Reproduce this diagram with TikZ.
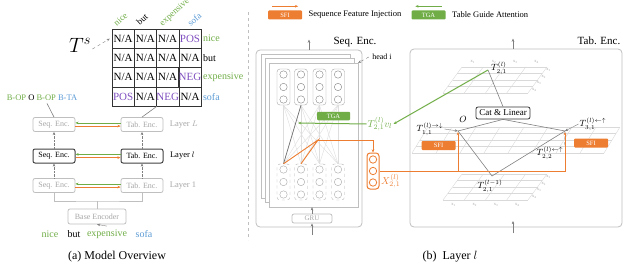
\documentclass[tikz,border=0pt]{standalone}
\usepackage{fontspec}
\setmainfont{Liberation Serif}
\usetikzlibrary{arrows.meta,calc,positioning}

\definecolor{tgagreen}{HTML}{70AD47}
\definecolor{sfiorange}{HTML}{ED7D31}
\definecolor{wordblue}{HTML}{5B9BD5}
\definecolor{tagpurple}{HTML}{8050C0}
\definecolor{linegray}{HTML}{BFBFBF}
\definecolor{textgray}{HTML}{A6A6A6}

\newcommand{\fs}[1]{\fontsize{#1}{#1}\selectfont}
\newcommand{\na}{N/A}
\newcommand{\postag}{\textcolor{tagpurple}{POS}}
\newcommand{\negtag}{\textcolor{tagpurple}{NEG}}
% skewed table seen in perspective: #1 front left corner, #2 slant, #3 columns, #4 column width
\newcommand{\skewgrid}[4]{%
  \foreach \k in {0,...,#3}
    \draw[gridline] ($(#1)+(#4*\k,0)$) -- ++(#2,-26);
  \foreach \k in {0,...,4}
    \draw[gridline] ($(#1)+(#2*\k/4,-6.5*\k)$) -- ++(#3*#4,0);
}

\tikzset{
  encbox/.style={draw=linegray,rounded corners=2pt,line width=0.8pt,minimum width=42,minimum height=14,inner sep=0pt,text=textgray,font=\fs{8}},
  encnow/.style={encbox,draw=black!75,line width=1pt,text=black},
  cell/.style={draw=black!80,minimum width=22.3,minimum height=19.3,inner sep=0pt,font=\fs{11}},
  collab/.style={rotate=42,anchor=south west,inner sep=0pt,font=\fs{9}},
  tagbox/.style={rounded corners=1pt,minimum width=34,minimum height=9,inner sep=0pt,text=white,font=\fs{6.5}},
  sfibox/.style={tagbox,fill=sfiorange},
  tgabox/.style={tagbox,fill=tgagreen},
  vecbox/.style={draw=gray!70,rounded corners=3pt,minimum width=13,minimum height=36,inner sep=0pt},
  botvec/.style={vecbox,dashed,draw=gray!60},
  page/.style={draw=linegray,fill=white,minimum width=89,minimum height=144,inner sep=0pt},
  gridline/.style={draw=black!15,line width=0.4pt},
  gridlab/.style={text=textgray,font=\fs{4.5},inner sep=0pt},
  link/.style={draw=gray,line width=0.6pt},
  maths/.style={font=\fs{9},inner sep=1pt},
}

\begin{document}
\begin{tikzpicture}[x=1pt,y=-1pt,>={Stealth[length=3.2pt,width=2.6pt]},font=\fs{10}]
\useasboundingbox (0,0) rectangle (640,278);

% (a) model overview
\foreach \r/\ca/\cb/\cc/\cd in {1/\na/\na/\na/\postag,2/\na/\na/\na/\na,3/\na/\na/\na/\negtag,4/\postag/\na/\negtag/\na} {
  \node[cell] (c\r1) at (123.1,19.35+19.3*\r) {\ca};
  \node[cell] (c\r2) at (145.4,19.35+19.3*\r) {\cb};
  \node[cell] (c\r3) at (167.7,19.35+19.3*\r) {\cc};
  \node[cell] (c\r4) at (190.0,19.35+19.3*\r) {\cd};
}
\node[right=1.5pt of c14,text=tgagreen,inner sep=0pt] (rnice) {nice};
\node[right=1.5pt of c24,inner sep=0pt] (rbut) {but};
\node[right=1.5pt of c34,text=tgagreen,inner sep=0pt] (rexp) {expensive};
\node[right=1.5pt of c44,text=wordblue,inner sep=0pt] (rsofa) {sofa};
\node[collab,text=tgagreen] (knice) at (117,27) {nice};
\node[collab] (kbut) at (140,26) {but};
\node[collab,text=tgagreen] (kexp) at (164,28) {expensive};
\node[collab,text=wordblue] (ksofa) at (191,27) {sofa};
\node[font=\fs{22}] (ts) at (80,45) {$T^{s}$};
\draw[->,dashed,gray] ([xshift=-2pt,yshift=-4pt]ts.east) -- ([xshift=-2pt]c11.west);

\node[font=\fs{8.5}] (tags) at (42,98) {\textcolor{tgagreen}{B-OP} O \textcolor{tgagreen}{B-OP} \textcolor{wordblue}{B-TA}};
\node[encbox] (seqL) at (54,124.5) {Seq. Enc.};
\node[encbox] (tabL) at (142,124.5) {Tab. Enc.};
\node[encnow] (seql) at (54,156) {Seq. Enc.};
\node[encnow] (tabl) at (142,156) {Tab. Enc.};
\node[encbox] (seq1) at (54,185.5) {Seq. Enc.};
\node[encbox] (tab1) at (142,185.5) {Tab. Enc.};
\node[right=3pt of tabL,text=textgray,font=\fs{8.5}] {Layer $L$};
\node[right=3pt of tabl,font=\fs{8.5}] {Layer $l$};
\node[right=3pt of tab1,text=textgray,font=\fs{8.5}] {Layer 1};
\node[encbox,minimum width=58,minimum height=15] (base) at (97,216.5) {Base Encoder};
\node[text=tgagreen] (wnice) at (50,234) {nice};
\node (wbut) at (74,234) {but};
\node[text=tgagreen] (wexp) at (107,234) {expensive};
\node[text=wordblue] (wsofa) at (144,234) {sofa};
\node[font=\fs{12}] (capa) at (117,257) {(a) Model Overview};

\draw[link] (seqL.north) -- ([xshift=5pt,yshift=1pt]tags.south);
\draw[link] (tabL.north) -- (c42.south east);
\foreach \s/\t in {seqL/tabL,seql/tabl,seq1/tab1} {
  \draw[->,tgagreen] ([yshift=1.6pt]\t.west) -- ([yshift=1.6pt]\s.east);
  \draw[->,sfiorange] ([yshift=-1.6pt]\s.east) -- ([yshift=-1.6pt]\t.west);
}
\draw[->,gray,densely dotted] (seq1.north) -- (seql.south);
\draw[->,gray,densely dotted] (seql.north) -- (seqL.south);
\draw[->,gray,densely dotted] (tab1.north) -- (tabl.south);
\draw[->,gray,densely dotted] (tabl.north) -- (tabL.south);
\coordinate (join) at (97,201);
\draw[linegray,line width=0.8pt] (seq1.south) |- (join) -| (tab1.south);
\draw[linegray,line width=0.8pt] (join) -- (base.north);
\draw[->,gray] (wexp.north) -- (base.south);

\draw[linegray,dashed,line width=1pt] (248,12) -- (248,240);

% (b) layer l
\node[sfibox] (lsfi) at (285,15) {SFI};
\draw[->,sfiorange,line width=0.9pt] ($(lsfi.north west)+(4,-4)$) -- ($(lsfi.north east)+(-4,-4)$);
\node[right=3pt of lsfi,font=\fs{8.5}] {Sequence Feature Injection};
\node[tgabox] (ltga) at (428.5,15) {TGA};
\draw[->,tgagreen,line width=0.9pt] ($(ltga.north east)+(-4,-4)$) -- ($(ltga.north west)+(4,-4)$);
\node[right=3pt of ltga,font=\fs{8.5}] {Table Guide Attention};

% sequence encoder
\node[draw=linegray,rounded corners=4pt,line width=0.8pt,minimum width=106,minimum height=177,inner sep=0pt] (seqenc) at (309,138.5) {};
\node[font=\fs{11}] at (355,42) {Seq. Enc.};
\draw[->,gray] (seqenc.north) -- ++(0,-10);
\node[page] (pg1) at (305.5,126.5) {};
\node[page] (pg2) at (309.5,130.5) {};
\node[page] (pg3) at (313.5,135) {};
\node[font=\fs{8}] (head) at (382,57) {head i};
\draw[->,gray,dashed] (head.west) -- (pg3.north east);

\node[vecbox] (tc1) at (283.5,87) {};
\node[vecbox] (tc2) at (301,87) {};
\node[vecbox] (tc3) at (319.5,87) {};
\node[vecbox] (tc4) at (338,87) {};
\node[botvec] (bc1) at (283.5,182) {};
\node[botvec] (bc2) at (301,182) {};
\node[botvec] (bc3) at (319.5,182) {};
\node[botvec] (bc4) at (338,182) {};
\foreach \i in {1,...,4} {
  \foreach \dy in {-12.5,0,12.5} {
    \draw[gray] ($(tc\i)+(0,\dy)$) circle[radius=3.7];
    \draw[gray!70] ($(bc\i)+(0,\dy)$) circle[radius=3.7];
  }
  \foreach \j in {1,...,4}
    \draw[black!13,line width=0.4pt] (tc\i.south) -- (bc\j.north);
}
\draw[gray!90!black,line width=0.7pt] (tc2.south) -- (bc1.north);
\node[tgabox,minimum width=33,minimum height=8.5] (tga) at (333.5,116) {TGA};

\node[vecbox,draw=sfiorange,line width=1pt,minimum width=12] (xvec) at (373,171) {};
\foreach \dy in {-11.5,0,11.5}
  \draw[sfiorange,line width=0.8pt] ($(xvec)+(0,\dy)$) circle[radius=3.7];
\node[maths,text=sfiorange,font=\fs{10},anchor=west] (xlab) at (380,181) {$X^{(l)}_{2,1}$};
\coordinate (hub) at (318,140);
\draw[sfiorange,line width=0.9pt] (bc1.north) -- (hub) -- (bc2.north);
\draw[->,sfiorange,line width=0.9pt] (hub) -| (xvec.north);

\node[encbox,minimum width=40,minimum height=9,font=\fs{7}] (gru) at (312,218.5) {GRU};
\draw[->,gray] (gru.north) -- (gru.north |- pg3.south);
\coordinate (gruin) at (312,235);
\draw[->,gray] (gruin) -- (gru.south);

\node[maths,text=tgagreen,font=\fs{10}] (tv) at (380,124) {$T^{(l)}_{2,1}v_l$};
\coordinate (tgatip) at (298,123);
\draw[->,tgagreen,line width=1pt] (tv.west) -- (tgatip);

% table encoder
\node[draw=linegray,rounded corners=4pt,line width=0.8pt,minimum width=212,minimum height=178,inner sep=0pt] (tabenc) at (516,138) {};
\node[font=\fs{11}] at (599,41) {Tab. Enc.};
\draw[->,gray] ([xshift=-3pt]tabenc.north) -- ++(0,-10);
\coordinate (tabin) at (513,233);
\draw[->,gray] (tabin) -- ++(0,-12);

\skewgrid{443,93}{19}{4}{21.25}
\skewgrid{412,153}{16}{8}{24}
\skewgrid{443,200}{19}{4}{21.25}
\foreach \k in {1,...,4} {
  \node[gridlab] at (451.6+21.25*\k,62) {x\textsubscript{\k}};
  \node[gridlab] at (432.4+21.25*\k,205) {x\textsubscript{\k}};
  \node[gridlab,anchor=west] at (551-4.75*\k,63.75+6.5*\k) {x\textsubscript{\k}};
  \node[gridlab,anchor=west] at (551-4.75*\k,170.75+6.5*\k) {x\textsubscript{\k}};
}

\coordinate (tnew) at (488,70);
\coordinate (tfw) at (458,131);
\coordinate (tbw) at (565,131);
\coordinate (told) at (492,176);
\node[sfibox] (sfil) at (438.5,145.5) {SFI};
\node[sfibox] (sfir) at (591,143) {SFI};
\node[draw=black!80,fill=white,rounded corners=2pt,line width=0.8pt,minimum width=54,minimum height=12,inner sep=0pt,font=\fs{9}] (cat) at (503,113) {Cat \& Linear};
\draw[link] (cat.north) -- (tnew);
\draw[link] (cat.south) -- (tfw);
\draw[link] (cat.south) -- (tbw);
\draw[link] (tfw) -- (told) -- (tbw);
\draw[->,tgagreen,line width=1pt] (tnew) -- (tv.east);
\draw[->,sfiorange,line width=1pt,shorten >=1pt] (xvec.east) -| (tbw);
\draw[->,sfiorange,line width=1pt,shorten >=1pt] (tfw |- xvec.east) -- (tfw);

\node[maths,anchor=west] (tnewlab) at (490,68) {$T^{(l)}_{2,1}$};
\node[maths] (olab) at (463,119) {$O$};
\node[maths] (tfwlab) at (430,129) {$T^{(l)\to\downarrow}_{1,1}$};
\draw[->,gray,line width=0.4pt] (tfwlab.east) -- (tfw);
\node[maths] (tbwlab) at (593,124) {$T^{(l)\leftarrow\uparrow}_{3,1}$};
\draw[->,gray,line width=0.4pt] (tbwlab.west) -- (tbw);
\node[maths] (tbtlab) at (550,153) {$T^{(l)\leftarrow\uparrow}_{2,2}$};
\draw[gray,dashed,line width=0.4pt] (tbtlab.north east) -- (tbw);
\node[maths] (toldlab) at (490,186) {$T^{(l-1)}_{2,1}$};

\node[font=\fs{12}] (capb) at (450,257) {(b)\enspace Layer $l$};
\end{tikzpicture}
\end{document}
